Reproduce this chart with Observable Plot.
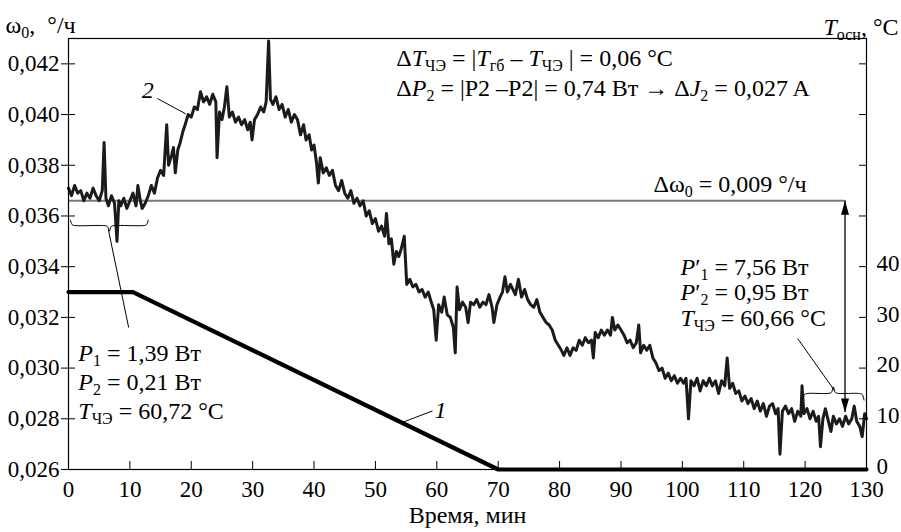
<!DOCTYPE html>
<html><head><meta charset="utf-8">
<script src="https://cdn.jsdelivr.net/npm/d3@7"></script>
<script src="https://cdn.jsdelivr.net/npm/@observablehq/plot@0.6"></script>
<style>
html,body{margin:0;padding:0;background:#fff;}
#chart svg, #chart text, #chart tspan{font-family:"Liberation Serif","Times New Roman",serif !important;}
#chart text{white-space:pre;}
</style></head><body><div id="chart"></div>
<script>
// ---- data ----
const xTicks = [0,10,20,30,40,50,60,70,80,90,100,110,120,130];
const yTicks = [0.026,0.028,0.030,0.032,0.034,0.036,0.038,0.040,0.042];
const tempTicks = [0,10,20,30,40,50,60,70,80];
const tempLabeled = [0,10,20,30,40];

// curve 1: base temperature T_осн, °C (right axis)
const tempTimes = [0,10.5,70,130];
const tempValues = [35,35,0,0];

// curve 2: drift ω0, °/ч (left axis)
const curve2 = [
[0,0.0371],[0.5,0.0368],[1,0.0372],[1.5,0.0369],[2,0.0370],[2.5,0.0366],[3,0.0369],[3.5,0.0367],[4,0.0371],[4.5,0.0368],
[5,0.0366],[5.5,0.0370],[5.8,0.0389],[6.1,0.0367],[6.5,0.0364],[7,0.0368],[7.5,0.0365],[7.9,0.0350],[8.2,0.0366],[8.5,0.0364],
[9,0.0367],[9.5,0.0363],[10,0.0366],[10.5,0.0369],[11,0.0364],[11.3,0.0372],[11.7,0.0366],[12,0.0363],[12.5,0.0365],[13,0.0368],
[13.5,0.0372],[14,0.0369],[14.5,0.0375],[15,0.0378],[15.5,0.0376],[16,0.0396],[16.3,0.0380],[16.8,0.0384],[17.1,0.0387],[17.4,0.0377],
[17.8,0.0386],[18.2,0.0389],[18.6,0.0393],[19,0.0396],[19.5,0.0400],[20,0.0399],[20.5,0.0403],[21,0.0402],[21.5,0.0409],[22,0.0405],
[22.5,0.0407],[23,0.0404],[23.5,0.0408],[24,0.0405],[24.2,0.0383],[24.6,0.0401],[25,0.0398],[25.4,0.0403],[25.8,0.0411],[26.2,0.0399],
[26.7,0.0401],[27.2,0.0397],[27.7,0.0399],[28.2,0.0396],[28.7,0.0398],[29.2,0.0394],[29.6,0.0397],[29.9,0.0390],[30.3,0.0398],[30.8,0.0400],
[31.3,0.0403],[31.8,0.0401],[32.2,0.0405],[32.6,0.0429],[32.9,0.0406],[33.3,0.0404],[33.8,0.0407],[34.3,0.0402],[34.8,0.0404],[35.3,0.0399],
[35.8,0.0402],[36.3,0.0397],[36.8,0.0400],[37.3,0.0398],[37.8,0.0392],[38.3,0.0396],[38.7,0.0390],[39.2,0.0392],[39.6,0.0386],[40,0.0388],
[40.4,0.0381],[40.7,0.0373],[41,0.0383],[41.5,0.0377],[42,0.0379],[42.5,0.0376],[43,0.0378],[43.5,0.0372],[44,0.0370],[44.5,0.0374],
[45,0.0369],[45.5,0.0367],[46,0.0370],[46.5,0.0365],[47,0.0367],[47.5,0.0364],[48,0.0366],[48.5,0.0360],[49,0.0362],[49.5,0.0357],
[50,0.0359],[50.5,0.0354],[51,0.0356],[51.5,0.0352],[51.8,0.0361],[52.2,0.0349],[52.6,0.0351],[53,0.0341],[53.4,0.0346],[53.8,0.0344],
[54.2,0.0347],[54.7,0.0352],[55.1,0.0333],[55.6,0.0335],[56.1,0.0332],[56.6,0.0333],[57.1,0.0330],[57.6,0.0331],[58.1,0.0328],[58.6,0.0330],
[59.1,0.0326],[59.5,0.0323],[59.9,0.0311],[60.3,0.0325],[60.8,0.0322],[61.2,0.0328],[61.7,0.0321],[62.2,0.0320],[62.7,0.0316],[63,0.0306],
[63.3,0.0332],[63.7,0.0323],[64.2,0.0326],[64.7,0.0324],[65.1,0.0318],[65.5,0.0326],[66,0.0325],[66.5,0.0327],[67,0.0324],[67.5,0.0326],
[68,0.0325],[68.5,0.0329],[69,0.0324],[69.3,0.0318],[69.8,0.0325],[70.3,0.0328],[70.7,0.0330],[71.1,0.0336],[71.5,0.0330],[72,0.0333],
[72.4,0.0331],[72.8,0.0329],[73.3,0.0335],[73.8,0.0328],[74.3,0.0331],[74.8,0.0327],[75.3,0.0325],[75.8,0.0324],[76.3,0.0327],[76.8,0.0322],
[77.3,0.0320],[77.8,0.0318],[78.3,0.0317],[78.8,0.0315],[79.3,0.0311],[79.8,0.0309],[80.3,0.0307],[80.7,0.0305],[81.2,0.0308],[81.7,0.0305],
[82.2,0.0308],[82.7,0.0307],[83.2,0.0311],[83.7,0.0309],[84.2,0.0312],[84.7,0.0310],[85.2,0.0311],[85.5,0.0304],[85.8,0.0314],[86.3,0.0312],
[86.8,0.0315],[87.3,0.0313],[87.8,0.0315],[88.3,0.0313],[88.6,0.0320],[89,0.0315],[89.5,0.0317],[90,0.0315],[90.5,0.0313],[91,0.0310],
[91.5,0.0311],[92,0.0308],[92.5,0.0310],[92.9,0.0317],[93.2,0.0306],[93.7,0.0309],[94.2,0.0307],[94.7,0.0309],[95.2,0.0304],[95.7,0.0302],
[96.2,0.0299],[96.7,0.0300],[97.2,0.0296],[97.7,0.0298],[98.2,0.0295],[98.7,0.0297],[99.2,0.0294],[99.7,0.0296],[100.2,0.0294],[100.6,0.0296],
[101,0.0280],[101.4,0.0295],[101.9,0.0293],[102.4,0.0296],[102.9,0.0291],[103.4,0.0295],[103.9,0.0293],[104.4,0.0296],[104.9,0.0293],[105.4,0.0295],
[105.9,0.0290],[106.4,0.0295],[106.9,0.0293],[107.3,0.0304],[107.7,0.0292],[108.2,0.0294],[108.7,0.0290],[109.2,0.0291],[109.7,0.0287],[110.2,0.0289],
[110.7,0.0286],[111.2,0.0288],[111.7,0.0284],[112.2,0.0287],[112.7,0.0283],[113.2,0.0286],[113.7,0.0281],[114.2,0.0285],[114.7,0.0286],[115.2,0.0282],
[115.6,0.0284],[115.9,0.0266],[116.3,0.0283],[116.8,0.0285],[117.3,0.0282],[117.8,0.0284],[118.3,0.0279],[118.8,0.0283],[119.3,0.0281],[119.5,0.0293],
[119.8,0.0282],[120.3,0.0284],[120.8,0.0280],[121.3,0.0283],[121.8,0.0279],[122.2,0.0281],[122.5,0.0269],[122.9,0.0280],[123.3,0.0284],[123.8,0.0279],
[124.2,0.0275],[124.6,0.0281],[125.1,0.0278],[125.6,0.0280],[126.1,0.0277],[126.6,0.0281],[127.1,0.0278],[127.6,0.0280],[128,0.0285],[128.4,0.0279],
[128.9,0.0277],[129.3,0.0273],[129.7,0.0282],[130,0.0280]
];

// reference level and Δω0 arrow
const refLevel = 0.0366;
const refEnd = 126.5;
const arrowT = 126.5;
const arrowLow = 0.02825;

// text annotations [t, ω, text]
const notesLeft = [
  [53.4, 0.04222, "Δ{i:T}{s:ЧЭ} = |{i:T}{s:гб} – {i:T}{s:ЧЭ} | = 0,06 °C"],
  [53.4, 0.04103, "Δ{i:P}{s:2} = |P2 –P2| = 0,74 Вт → Δ{i:J}{s:2} = 0,027 A"],
  [95.3, 0.03723, "Δω{s:0} = 0,009 °/ч"],
  [1.6, 0.03057, "{i:P}{s:1} = 1,39 Вт"],
  [1.6, 0.02943, "{i:P}{s:2} = 0,21 Вт"],
  [1.6, 0.02829, "{i:T}{s:ЧЭ} = 60,72 °C"],
  [99.7, 0.03396, "{i:P}′{s:1} = 7,56 Вт"],
  [99.7, 0.03298, "{i:P}′{s:2} = 0,95 Вт"],
  [99.7, 0.03195, "{i:T}{s:ЧЭ} = 60,66 °C"]
];
const curveLabels = [[12.9, 0.04094, "2"], [60.6, 0.02833, "1"]];
// leader lines [t1, ω1, t2, ω2]
const leaders = [
  [14.5, 0.04063, 19.1, 0.04003],
  [54.2, 0.02784, 59.3, 0.02831],
  [6.5, 0.03546, 9.8, 0.03160],
  [124.8, 0.02911, 118.8, 0.03116]
];
// braces [tStart, tEnd, ω, endOffset]
const braces = [
  [0.3, 13.0, 0.03562, 0.00022],
  [119.6, 129.6, 0.02900, -0.00026]
];

// ---- helpers ----
const toW = T => 0.026 + T * 0.0002;
const fmtW = w => w.toFixed(3).replace(".", ",");
const FS = 24;      // annotation text
const TICK_FS = 23; // tick labels
const tempData = tempTimes.map((t, i) => ({t, T: tempValues[i]}));

function bracePoints([x1, x2, y, h]) {
  const xm = (x1 + x2) / 2, e = 0.9;
  return [
    [x1, y + h], [x1 + e * 0.35, y + h * 0.15], [x1 + e, y], [xm - e, y], [xm - e * 0.35, y - h * 0.15], [xm, y - h],
    [xm + e * 0.35, y - h * 0.15], [xm + e, y], [x2 - e, y], [x2 - e * 0.35, y + h * 0.15], [x2, y + h]
  ];
}
const upHead = {draw(c) { c.moveTo(0, 0); c.lineTo(4, 14); c.lineTo(-4, 14); c.closePath(); }};
const downHead = {draw(c) { c.moveTo(0, 0); c.lineTo(4, -14); c.lineTo(-4, -14); c.closePath(); }};

const ink = "#1b1b1b";

const chart = Plot.plot({
  width: 901, height: 532,
  marginLeft: 68, marginRight: 35, marginTop: 38, marginBottom: 63,
  x: {domain: [0, 130], label: null},
  y: {domain: [0.026, 0.043], label: null},
  style: {fontSize: TICK_FS + "px", background: "#fff", color: "#000", overflow: "visible"},
  marks: [
    Plot.ruleY([refLevel], {x1: 0, x2: refEnd, stroke: "#7a7a7a", strokeWidth: 1.8}),
    Plot.line(curve2, {x: d => d[0], y: d => d[1], stroke: ink, strokeWidth: 3, strokeLinejoin: "round"}),
    Plot.line(tempData, {x: "t", y: d => toW(d.T), stroke: "#000", strokeWidth: 4.2, strokeLinejoin: "miter"}),
    Plot.ruleX([arrowT], {y1: refLevel, y2: arrowLow, stroke: "#000", strokeWidth: 1.3}),
    Plot.dot([[arrowT, refLevel]], {x: d => d[0], y: d => d[1], symbol: upHead, fill: "#000", stroke: "none", r: 4}),
    Plot.dot([[arrowT, arrowLow]], {x: d => d[0], y: d => d[1], symbol: downHead, fill: "#000", stroke: "none", r: 4}),
    ...braces.map(b => Plot.line(bracePoints(b), {x: d => d[0], y: d => d[1], stroke: "#000", strokeWidth: 1, curve: "catmull-rom"})),
    Plot.link(leaders, {x1: d => d[0], y1: d => d[1], x2: d => d[2], y2: d => d[3], stroke: "#000", strokeWidth: 1}),
    Plot.text(notesLeft, {x: d => d[0], y: d => d[1], text: d => d[2], textAnchor: "start", fontSize: FS, fill: "#000"}),
    Plot.text(curveLabels, {x: d => d[0], y: d => d[1], text: d => d[2], fontStyle: "italic", fontSize: FS, fill: "#000"}),
    Plot.frame({stroke: "#000", strokeWidth: 1.2}),
    Plot.axisY(yTicks, {anchor: "left", tickSize: 7, tickFormat: () => "", label: null}),
    Plot.axisY(yTicks, {anchor: "left", tickSize: -7, tickFormat: () => "", label: null}),
    Plot.axisY(yTicks, {anchor: "left", tickSize: 0, tickPadding: 9, tickFormat: fmtW, label: null}),
    Plot.axisY(tempTicks.map(toW), {anchor: "right", tickSize: -8, tickFormat: () => "", label: null}),
    Plot.axisY(tempLabeled.map(toW), {anchor: "right", tickSize: 0, tickPadding: 10, dy: -3, tickFormat: w => String(Math.round((w - 0.026) * 5000)), label: null}),
    Plot.axisX(xTicks, {anchor: "bottom", tickSize: -8, tickFormat: () => "", label: null}),
    Plot.axisX(xTicks, {anchor: "bottom", tickSize: 0, tickPadding: 11, tickFormat: d => String(d), label: null}),
    Plot.text(["ω{s:0},  °/ч"], {frameAnchor: "top-left", textAnchor: "start", dx: -63, dy: -23, fontSize: FS, fill: "#000"}),
    Plot.text(["{i:T}{s:осн}, °C"], {frameAnchor: "top-right", textAnchor: "end", dx: 32, dy: -21, fontSize: FS, fill: "#000"}),
    Plot.text(["Время, мин"], {frameAnchor: "bottom", dy: 53, fontSize: FS, fill: "#000"})
  ]
});

// rich text: italics and subscripts as real tspans
const SUB_FS = 16, SUB_DY = 5;
d3.select(chart).selectAll("text").each(function () {
  const s = this.textContent;
  if (!/\{(i|s):/.test(s)) return;
  const el = d3.select(this);
  el.text(null);
  const re = /\{(i|s):([^}]*)\}/g;
  let last = 0, m, shift = 0;
  const add = (txt, kind) => {
    const t = el.append("tspan").text(txt);
    if (kind === "s") {
      t.attr("font-size", SUB_FS).attr("dy", SUB_DY - shift);
      shift = SUB_DY;
    } else {
      if (shift) t.attr("dy", -shift);
      shift = 0;
      if (kind === "i") t.attr("font-style", "italic");
    }
  };
  while ((m = re.exec(s))) {
    if (m.index > last) add(s.slice(last, m.index), "n");
    add(m[2], m[1]);
    last = re.lastIndex;
  }
  if (last < s.length) add(s.slice(last), "n");
});

document.getElementById("chart").appendChild(chart);
</script>
</body></html>
